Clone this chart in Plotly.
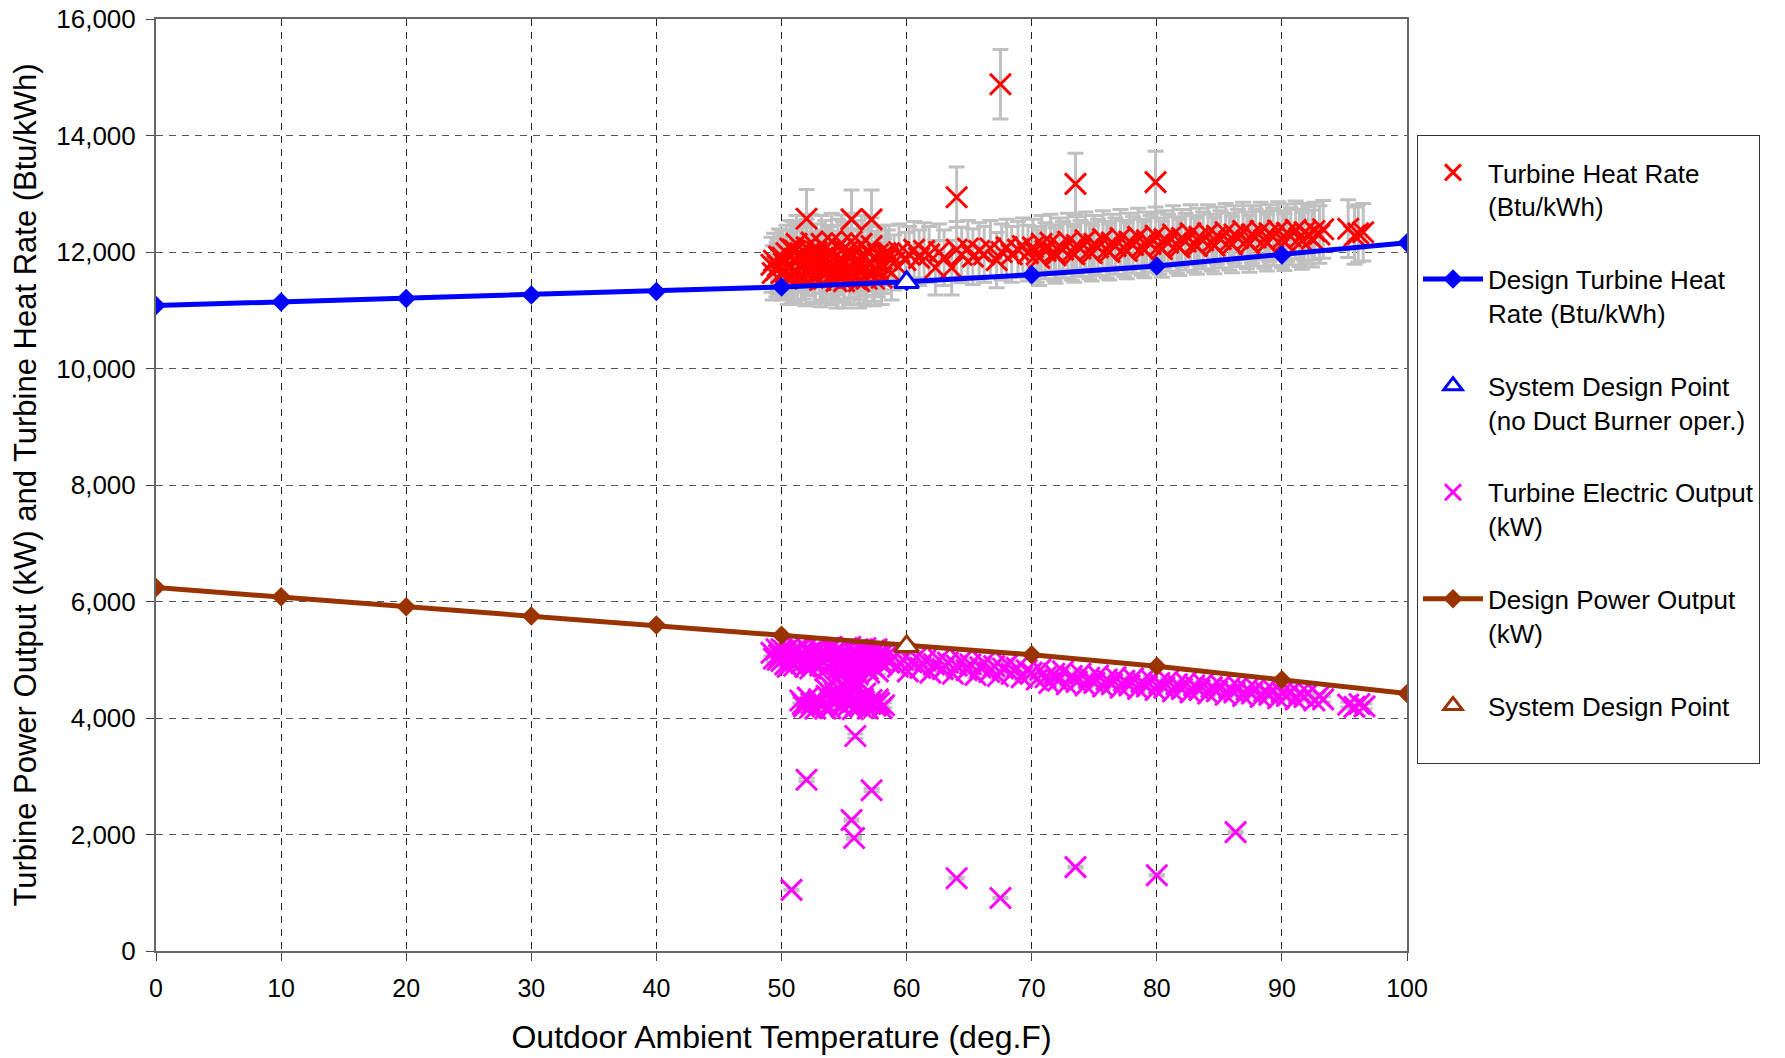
import plotly.graph_objects as go

# ---------------- data ----------------
design_temp = [0, 10, 20, 30, 40, 50, 60, 70, 80, 90, 100]
design_heat_rate = [11080, 11140, 11200, 11260, 11320, 11400, 11490, 11610, 11760, 11950, 12160]
design_power = [6240, 6080, 5910, 5750, 5595, 5420, 5250, 5085, 4890, 4655, 4420]

sdp_hr_temp = [60]
sdp_hr_value = [11480]
sdp_kw_temp = [60]
sdp_kw_value = [5230]

hr_temp = [
    49.2, 49.4, 49.6, 49.8, 50.0, 50.2, 50.4, 50.6, 50.8, 51.0,
    51.1, 51.3, 51.5, 51.7, 51.9, 52.0, 52.2, 52.4, 52.6, 52.8,
    53.0, 53.1, 53.3, 53.5, 53.6, 53.8, 54.0, 54.1, 54.3, 54.5,
    54.6, 54.8, 55.0, 55.1, 55.3, 55.5, 55.6, 55.8, 56.0, 56.1,
    56.3, 56.5, 56.6, 56.8, 57.0, 57.1, 57.3, 57.5, 57.7, 57.9,
    49.3, 50.1, 50.5, 50.9, 51.6, 52.3, 53.2, 53.9, 54.4, 54.9,
    55.4, 56.2, 56.9, 57.4, 58.2, 58.5, 58.8,
    49.7, 50.0, 50.3, 50.7, 51.0, 51.2, 51.5, 51.8, 52.1, 52.4,
    52.7, 52.9, 53.2, 53.4, 53.7, 54.0, 54.2, 54.5, 54.8, 55.0,
    55.3, 55.6, 55.8, 56.1, 56.4, 56.6, 56.9, 57.2, 57.4, 57.7,
    58.0, 58.3,
    58.6, 59.0, 59.4, 59.9, 60.2, 60.6, 61.0, 61.4, 61.8, 62.3,
    62.6, 63.0, 63.6, 64.0, 64.4, 64.9, 65.3, 65.8, 66.2, 66.7,
    67.2, 67.6, 68.0, 68.4, 68.9, 69.3, 69.7,
    70.1, 70.4, 70.8, 71.1, 71.5, 71.8, 72.2, 72.5, 72.9, 73.2,
    73.6, 73.9, 74.3, 74.6, 75.0, 75.3, 75.7, 76.0, 76.4, 76.7,
    77.1, 77.4, 77.8, 78.1, 78.5, 78.8, 79.2, 79.5, 79.9, 80.2,
    80.6, 80.9, 81.3, 81.6, 82.0, 82.3, 82.7, 83.0, 83.4, 83.7,
    84.1, 84.4, 84.8, 85.1, 85.5, 85.8, 86.2, 86.5, 86.9, 87.2,
    87.6, 87.9, 88.3, 88.6, 89.0, 89.3, 89.7, 90.0, 90.4, 90.7,
    91.1, 91.4, 91.8, 92.1, 92.6, 93.0, 93.3,
    70.6, 71.9, 73.4, 74.8, 76.2, 77.6, 79.0, 80.4, 81.8, 83.2,
    84.6, 86.0, 87.4, 88.8, 90.2, 91.6, 92.4,
    95.3, 96.1, 96.5, 95.8,
    52.0, 55.6, 57.2, 64.0, 67.5, 73.5, 79.9,
]
hr_value = [
    11780, 11850, 11700, 11920, 11640, 11800, 11980, 11720, 11580, 11880,
    12020, 11650, 11780, 11940, 11540, 12080, 11720, 11860, 11600, 12000,
    11760, 11520, 11900, 12060, 11680, 11820, 11560, 11980, 11740, 12080,
    11620, 11880, 11500, 11800, 12020, 11680, 11920, 11560, 11780, 12060,
    11640, 11900, 11720, 11540, 11980, 11800, 11620, 11880, 11700, 11820,
    11640, 11900, 11560, 12040, 11560, 12000, 11640, 11960, 11500, 12040,
    11560, 11500, 12000, 11540, 11760, 11900, 11640,
    11760, 11900, 11660, 12060, 11620, 12140, 11980, 11660, 11820, 12160,
    11580, 11880, 12140, 11600, 11960, 12180, 11660, 11820, 12150, 11600,
    11920, 12180, 11660, 11880, 12140, 11580, 11800, 12100, 11700, 11960,
    11560, 11980,
    11980, 11820, 12000, 11860, 11960, 12040, 11900, 12020, 11960, 11730,
    12000, 11900, 11730, 12040, 11950, 12060, 11920, 12020, 11960, 12060,
    11860, 12000, 12080, 11960, 12040, 12100, 11980,
    12080, 11960, 12140, 12020, 12160, 11990, 12100, 12040, 12180, 12000,
    12120, 12060, 12200, 12020, 12140, 12080, 12220, 12040, 12160, 12100,
    12240, 12060, 12180, 12120, 12260, 12080, 12200, 12140, 12280, 12100,
    12220, 12160, 12300, 12120, 12240, 12180, 12320, 12140, 12260, 12200,
    12320, 12160, 12280, 12220, 12340, 12180, 12300, 12240, 12360, 12200,
    12300, 12250, 12360, 12210, 12320, 12260, 12370, 12220, 12330, 12270,
    12380, 12240, 12340, 12290, 12360, 12300, 12390,
    11900, 11940, 11960, 11980, 12000, 12020, 12040, 12050, 12080, 12100,
    12110, 12130, 12140, 12160, 12170, 12190, 12230,
    12400, 12320, 12340, 12280,
    12570, 12560, 12560, 12940, 14880, 13170, 13200,
]

kw_temp = [
    49.2, 49.4, 49.6, 49.8, 50.0, 50.2, 50.4, 50.6, 50.8, 51.0,
    51.2, 51.4, 51.6, 51.8, 52.0, 52.2, 52.4, 52.6, 52.8, 53.0,
    53.2, 53.4, 53.6, 53.8, 54.0, 54.2, 54.4, 54.6, 54.8, 55.0,
    55.2, 55.4, 55.6, 55.8, 56.0, 56.2, 56.4, 56.6, 56.8, 57.0,
    57.2, 57.4, 57.6, 57.8, 58.0, 58.3,
    49.7, 50.0, 50.3, 50.7, 51.0, 51.3, 51.6, 51.9, 52.2, 52.5,
    52.8, 53.1, 53.4, 53.7, 54.0, 54.3, 54.6, 54.9, 55.2, 55.5,
    55.8, 56.1, 56.4, 56.7, 57.0, 57.3, 57.6, 57.9, 58.2,
    51.5, 51.8, 52.1, 52.4, 52.7, 53.0, 53.3, 53.6, 53.9, 54.2,
    54.5, 54.8, 55.1, 55.4, 55.7, 56.0, 56.3, 56.6, 56.9, 57.2,
    57.5, 57.8, 58.0,
    51.7, 52.3, 52.9, 53.5, 54.1, 54.7, 55.3, 55.9, 56.5, 57.1, 57.7, 58.2,
    53.6, 54.0, 54.3, 54.7, 55.0, 55.3, 55.6, 55.9, 56.3, 56.7, 57.0,
    53.8, 54.4, 55.1, 55.7, 56.1, 54.9,
    50.5, 52.3, 53.5, 55.5, 56.9, 57.7,
    58.6, 59.0, 59.3, 59.7, 60.1, 60.4, 60.8, 61.1, 61.5, 61.9,
    62.2, 62.6, 62.9, 63.3, 63.7, 64.0, 64.4, 64.8, 65.1, 65.5,
    65.9, 66.2, 66.6, 67.0, 67.3, 67.7, 68.1, 68.4, 68.8, 69.2, 69.6,
    70.0, 70.4, 70.7, 71.1, 71.4, 71.8, 72.1, 72.5, 72.8, 73.2,
    73.6, 73.9, 74.3, 74.6, 75.0, 75.3, 75.7, 76.0, 76.4, 76.7,
    77.1, 77.4, 77.8, 78.1, 78.5, 78.8, 79.2, 79.5, 79.9, 80.2,
    80.6, 80.9, 81.3, 81.6, 82.0, 82.3, 82.7, 83.0, 83.4, 83.7,
    84.1, 84.4, 84.8, 85.1, 85.5, 85.8, 86.2, 86.5, 86.9, 87.2,
    87.6, 87.9, 88.3, 88.6, 89.0, 89.3, 89.7, 90.0, 90.4, 90.7,
    91.1, 91.4, 91.8, 92.1, 92.6, 93.0, 93.3,
    95.3, 95.8, 96.2, 96.6,
    50.8, 52.0, 55.6, 55.8, 55.9, 57.2, 64.0, 67.5, 73.5, 80.0, 86.3,
]
kw_value = [
    5120, 5020, 5180, 5080, 4980, 5150, 5060, 5200, 4960, 5100,
    5020, 5170, 4940, 5090, 5200, 5000, 5130, 4920, 5060, 5180,
    4980, 5120, 5040, 5200, 4950, 5090, 5170, 5010, 5140, 4930,
    5060, 5200, 5000, 5120, 4960, 5080, 5180, 5020, 5130, 4940,
    5070, 5160, 5000, 5100, 4920, 5040,
    5000, 5180, 4920, 5100, 4900, 5200, 5040, 4880, 5120, 4960,
    5210, 4900, 5060, 4880, 5200, 4980, 4860, 5100, 4900, 5220,
    4880, 5040, 4900, 5200, 5040, 4880, 5180, 4980, 5120,
    4300, 4200, 4350, 4250, 4160, 4320, 4220, 4380, 4170, 4280,
    4350, 4190, 4300, 4230, 4150, 4330, 4200, 4280, 4160, 4310,
    4210, 4260, 4170,
    4240, 4180, 4280, 4160, 4340, 4230, 4360, 4190, 4330, 4240, 4320, 4220,
    4480, 4620, 4420, 4740, 4550, 4450, 4680, 4500, 4600, 4420, 4780,
    4560, 4700, 4640, 4580, 4750, 4440,
    4880, 4850, 4820, 4870, 4840, 4800,
    4950, 5050, 4880, 5000, 4800, 4960, 5040, 4860, 4990, 4780,
    4920, 5000, 4840, 4950, 4760, 4900, 4980, 4820, 4920, 4740,
    4870, 4950, 4790, 4890, 4720, 4850, 4920, 4760, 4860, 4700, 4820,
    4780, 4660, 4830, 4700, 4600, 4760, 4640, 4800, 4580, 4720,
    4620, 4760, 4560, 4690, 4600, 4730, 4540, 4660, 4580, 4700,
    4520, 4640, 4560, 4680, 4500, 4620, 4540, 4660, 4480, 4600,
    4520, 4640, 4460, 4580, 4500, 4610, 4440, 4560, 4480, 4590,
    4420, 4530, 4460, 4560, 4400, 4510, 4440, 4540, 4380, 4490,
    4420, 4510, 4360, 4460, 4400, 4480, 4340, 4440, 4380, 4460,
    4320, 4420, 4360, 4430, 4300, 4380, 4320,
    4230, 4190, 4240, 4200,
    1050, 2940, 2250, 1940, 3690, 2760, 1250, 910, 1440, 1300, 2040,
]

x_ticks = [0, 10, 20, 30, 40, 50, 60, 70, 80, 90, 100]

# ---------------- figure ----------------
FONT = "Arial, Liberation Sans, sans-serif"
fig = go.Figure()

fig.add_trace(go.Scatter(
    x=hr_temp, y=hr_value, mode="markers",
    name="Turbine Heat Rate<br>(Btu/kWh)", legendgroup="a",
    marker=dict(symbol="x-thin-open", size=21, color="#FF0000",
                line=dict(color="#FF0000", width=3)),
    error_y=dict(type="percent", value=4, color="#C0C0C0", thickness=3, width=8),
))
fig.add_trace(go.Scatter(
    x=design_temp, y=design_heat_rate, mode="lines+markers",
    name="Design Turbine Heat<br>Rate (Btu/kWh)", legendgroup="b",
    line=dict(color="#0000FF", width=5),
    marker=dict(symbol="diamond", size=15, color="#0000FF"),
))
fig.add_trace(go.Scatter(
    x=sdp_hr_temp, y=sdp_hr_value, mode="markers",
    name="System Design Point<br>(no Duct Burner oper.)", legendgroup="c",
    marker=dict(symbol="triangle-up", size=21, color="white",
                line=dict(color="#0000FF", width=3)),
))
fig.add_trace(go.Scatter(
    x=kw_temp, y=kw_value, mode="markers",
    name="Turbine Electric Output<br>(kW)", legendgroup="d",
    marker=dict(symbol="x-thin-open", size=21, color="#FF00FF",
                line=dict(color="#FF00FF", width=3)),
    error_y=dict(type="percent", value=1, color="#C0C0C0", thickness=3, width=8),
))
fig.add_trace(go.Scatter(
    x=design_temp, y=design_power, mode="lines+markers",
    name="Design Power Output<br>(kW)", legendgroup="e",
    line=dict(color="#993300", width=5),
    marker=dict(symbol="diamond", size=15, color="#993300"),
))
fig.add_trace(go.Scatter(
    x=sdp_kw_temp, y=sdp_kw_value, mode="markers",
    name="System Design Point<br> ", legendgroup="f",
    marker=dict(symbol="triangle-up", size=21, color="white",
                line=dict(color="#993300", width=3)),
))

fig.update_layout(
    width=1785, height=1058,
    margin=dict(l=156, r=378, t=19, b=107, autoexpand=False),
    paper_bgcolor="white", plot_bgcolor="white",
    font=dict(family=FONT, size=25, color="black"),
    showlegend=True,
    legend=dict(
        x=1.008, y=0.8755, xanchor="left", yanchor="top",
        bordercolor="#333", borderwidth=1, bgcolor="white",
        font=dict(family=FONT, size=26, color="black"),
        title=dict(text=" ", font=dict(size=10)),
        tracegroupgap=36, valign="top", traceorder="grouped",
        itemwidth=60,
    ),
    xaxis=dict(
        range=[0, 100], tickvals=x_ticks, ticktext=[str(v) for v in x_ticks],
        showgrid=True, gridcolor="#222", gridwidth=1, griddash="7px,6px",
        zeroline=False, showline=True, linecolor="#666", linewidth=2, mirror=True,
        ticks="outside", ticklen=8, tickcolor="#444", tickwidth=1,
        tickfont=dict(size=25), ticklabelstandoff=6,
        title=dict(text="Outdoor Ambient Temperature (deg.F)", font=dict(size=32), standoff=25),
    ),
    yaxis=dict(
        range=[0, 16000], dtick=2000, tickformat=",d",
        showgrid=True, gridcolor="#555", gridwidth=1, griddash="7px,6px",
        zeroline=False, showline=True, linecolor="#666", linewidth=2, mirror=True,
        ticks="outside", ticklen=8, tickcolor="#444", tickwidth=1,
        tickfont=dict(size=26), ticklabelstandoff=5,
        title=dict(text="Turbine Power Output (kW) and Turbine Heat Rate (Btu/kWh)",
                   font=dict(size=31), standoff=10),
    ),
)

fig.write_html("out.html")
